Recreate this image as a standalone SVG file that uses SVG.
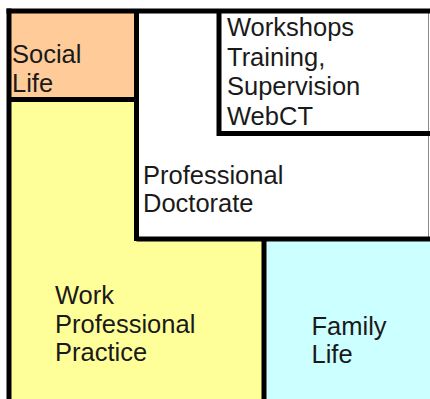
<svg xmlns="http://www.w3.org/2000/svg" width="430" height="399" viewBox="0 0 430 399">
  <style>
    .lbl { font-family: "Liberation Sans", Arial, sans-serif; font-size: 25.5px; fill: #1a1a1a; }
    .edge { stroke: #000; stroke-width: 5; fill: none; }
    .thin { stroke: #8a8a8a; stroke-width: 1; fill: none; }
  </style>
  <rect width="430" height="399" fill="#fff"/>

  <!-- Work / professional practice: L-shaped yellow area beneath the others -->
  <g id="work-practice">
    <rect x="9" y="100" width="255" height="299" fill="#FFFF99"/>
    <text class="lbl" x="55" y="304">Work</text>
    <text class="lbl" x="55" y="333">Professional</text>
    <text class="lbl" x="55" y="361">Practice</text>
  </g>

  <g id="social-life">
    <rect x="9" y="11" width="128" height="89" fill="#FFCC99"/>
    <text class="lbl" x="12" y="63">Social</text>
    <text class="lbl" x="12" y="92">Life</text>
  </g>

  <g id="professional-doctorate">
    <rect x="137" y="11" width="293" height="228" fill="#fff"/>
    <text class="lbl" x="143" y="184">Professional</text>
    <text class="lbl" x="143" y="212">Doctorate</text>
  </g>

  <g id="workshops">
    <rect x="219" y="11" width="211" height="122" fill="#fff"/>
    <text class="lbl" x="227" y="36">Workshops</text>
    <text class="lbl" x="227" y="65.5">Training,</text>
    <text class="lbl" x="227" y="95">Supervision</text>
    <text class="lbl" x="227" y="124.5">WebCT</text>
  </g>

  <g id="family-life">
    <rect x="264" y="239" width="166" height="160" fill="#CCFFFF"/>
    <text class="lbl" x="311.5" y="335">Family</text>
    <text class="lbl" x="311.5" y="363">Life</text>
  </g>

  <!-- dividing borders between the areas -->
  <g id="borders">
    <line class="thin" x1="428.5" y1="11" x2="428.5" y2="237"/>
    <line class="edge" x1="6.5" y1="11" x2="430" y2="11"/>
    <line class="edge" x1="9" y1="8.5" x2="9" y2="399"/>
    <line class="edge" x1="9" y1="99.5" x2="137" y2="99.5"/>
    <line class="edge" x1="136.5" y1="11" x2="136.5" y2="241"/>
    <line class="edge" x1="219" y1="11" x2="219" y2="136"/>
    <line class="edge" x1="219" y1="133.5" x2="430" y2="133.5"/>
    <line class="edge" x1="136.5" y1="239" x2="430" y2="239"/>
    <line class="edge" x1="264" y1="239" x2="264" y2="399"/>
  </g>
</svg>
